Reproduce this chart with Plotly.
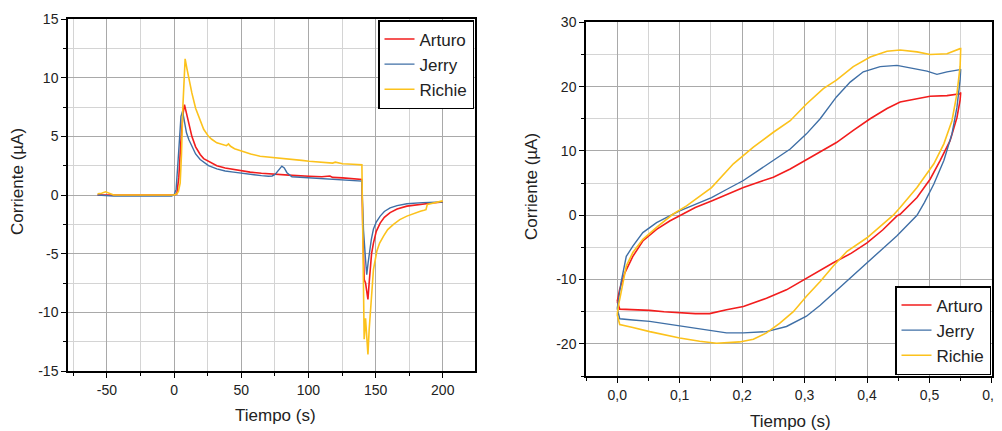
import plotly.graph_objects as go

# ---------------- Left panel data (chronoamperometry) ----------------
t_arturo = [-57, -45, -30, -15, 0, 2, 3.5, 5, 6.5, 7.7, 9, 11, 13.2, 16, 19.4, 22, 25.6, 31.8, 38, 44.2,
            50, 56.6, 65, 75.6, 88, 100.5, 110, 116, 118, 125.4, 133, 139.8, 140.5, 141.5, 142.5, 143.4,
            144.3, 145.2, 145.9, 147, 148.4, 150.5, 153.4, 156.5, 160.8, 166, 173.3, 180, 185.7, 192, 200]
i_arturo = [0, 0, 0, 0, 0, 0.1, 1.5, 4.5, 6.8, 7.7, 7.0, 5.9, 5.0, 4.1, 3.45, 3.1, 2.88, 2.5, 2.3, 2.17,
            2.05, 1.95, 1.85, 1.75, 1.67, 1.6, 1.55, 1.62, 1.5, 1.46, 1.4, 1.32, -3, -7.2, -7.5, -8.2,
            -8.9, -7.5, -6.35, -5.0, -4.1, -3.1, -2.4, -1.9, -1.5, -1.2, -0.95, -0.85, -0.75, -0.68, -0.6]

t_jerry = [-57, -45, -30, -15, -2, 0, 1.5, 3, 3.9, 5.1, 6.3, 7.5, 9.2, 11, 13.2, 16, 19.4, 25.6, 31.8, 38,
           44.2, 56.6, 65, 70.2, 73, 75.2, 78, 80.2, 82, 84, 87.7, 100.5, 125.4, 139.8, 140.2, 141, 142.5,
           143.4, 144.4, 145.4, 146.8, 148.4, 150.5, 153.4, 156.5, 160.8, 166, 173.3, 185, 200]
i_jerry = [0, -0.1, -0.1, -0.1, -0.1, 0, 0.5, 3.0, 4.7, 6.7, 7.15, 6.4, 5.3, 4.7, 4.16, 3.5, 3.03, 2.5, 2.23, 2.05,
           1.95, 1.75, 1.65, 1.6, 1.62, 1.75, 2.2, 2.46, 2.3, 1.9, 1.55, 1.46, 1.32, 1.18, -0.5, -3.0, -5.5,
           -6.8, -5.8, -4.9, -3.8, -2.9, -2.3, -1.8, -1.4, -1.1, -0.9, -0.75, -0.65, -0.6]

t_richie = [-57, -54, -51, -48, -45, -30, -15, 0, 2, 3.2, 4.5, 5.5, 6.5, 7.5, 8.2, 9.5, 11, 13.2, 16, 19.4,
            22, 25.6, 28, 31.8, 36, 39, 40.5, 42, 45, 50.8, 57, 64, 70, 75.6, 82, 88.8, 95, 100.5, 107,
            113.7, 118, 120, 125.4, 133, 139.8, 140.3, 141.5, 142.5, 143.5, 144.3, 145.2, 145.9, 147, 148.4,
            150.9, 153, 155.9, 159, 163.3, 168, 173.3, 178, 183.3, 186, 187.5, 188.5, 192, 197.2, 200]
i_richie = [0.1, 0.15, 0.27, 0.1, 0, 0, 0, 0, 0.1, 0.3, 1.0, 3.5, 7.5, 10.5, 11.6, 10.8, 9.9, 8.7, 7.4, 6.4,
            5.6, 5.0, 4.75, 4.45, 4.3, 4.2, 4.35, 4.15, 3.95, 3.73, 3.5, 3.3, 3.22, 3.17, 3.1, 3.03, 2.95, 2.88, 2.8,
            2.74, 2.72, 2.8, 2.66, 2.62, 2.57, -2, -12.3, -10.5, -12, -13.6, -11.5, -10.3, -8.2, -6.35,
            -4.8, -4.1, -3.5, -2.95, -2.5, -2.1, -1.8, -1.58, -1.38, -1.3, -1.25, -0.8, -0.7, -0.53, -0.5]

# ---------------- Right panel data (cyclic loops) ----------------
e_arturo = [0.0, 0.004, 0.012, 0.025, 0.041, 0.063, 0.084, 0.1, 0.125, 0.151, 0.175, 0.202, 0.225, 0.25,
            0.277, 0.303, 0.325, 0.351, 0.378, 0.405, 0.432, 0.453, 0.48, 0.501, 0.528, 0.549, 0.55,
            0.549, 0.544, 0.533, 0.517, 0.501, 0.48, 0.453, 0.448, 0.425, 0.4, 0.375, 0.346, 0.325, 0.303,
            0.271, 0.239, 0.202, 0.175, 0.148, 0.125, 0.1, 0.075, 0.052, 0.025, 0.004, 0.0]
c_arturo = [-13.4, -11.5, -9, -6.4, -4.0, -2.2, -0.9, -0.1, 1.2, 2.23, 3.2, 4.3, 5.1, 5.9,
            7.2, 8.6, 9.8, 11.3, 13.2, 15, 16.6, 17.6, 18.1, 18.5, 18.6, 18.9, 19.1,
            17.9, 15.2, 11.6, 8.5, 5.6, 2.75, 0.15, -0.1, -2.3, -4.3, -5.9, -7.4, -8.6, -9.75,
            -11.6, -12.9, -14.2, -14.7, -15.3, -15.3, -15.2, -15.0, -14.8, -14.7, -14.6, -13.4]

e_jerry = [0.0, 0.002, 0.006, 0.0145, 0.025, 0.041, 0.063, 0.084, 0.1, 0.125, 0.151, 0.175, 0.202, 0.225,
           0.25, 0.277, 0.303, 0.325, 0.351, 0.373, 0.394, 0.421, 0.448, 0.474, 0.496, 0.512, 0.528, 0.549, 0.55,
           0.549, 0.544, 0.536, 0.523, 0.507, 0.492, 0.48, 0.448, 0.425, 0.4, 0.375, 0.346, 0.325, 0.303,
           0.271, 0.239, 0.202, 0.175, 0.148, 0.125, 0.1, 0.075, 0.052, 0.025, 0.004, 0.0]
c_jerry = [-14.5, -13, -10.5, -6.4, -4.8, -2.7, -1.15, -0.1, 0.67, 1.7, 2.75, 4.0, 5.4, 6.9,
           8.5, 10.3, 12.65, 15, 18.4, 20.7, 22.3, 23.1, 23.3, 22.8, 22.4, 21.9, 22.3, 22.65, 22.7,
           21, 16.8, 12.65, 8.5, 4.85, 2.0, 0.0, -3.2, -5.2, -7.4, -9.7, -12.1, -14, -15.7,
           -17.3, -18.1, -18.3, -18.3, -17.9, -17.6, -17.3, -16.9, -16.5, -16.3, -16.1, -14.5]

e_richie = [0.0, 0.002, 0.006, 0.0145, 0.025, 0.041, 0.063, 0.084, 0.089, 0.111, 0.151, 0.186, 0.218, 0.25,
            0.277, 0.303, 0.33, 0.351, 0.378, 0.405, 0.432, 0.453, 0.48, 0.501, 0.528, 0.549, 0.55,
            0.549, 0.544, 0.536, 0.523, 0.507, 0.48, 0.453, 0.442, 0.4, 0.368, 0.346, 0.325, 0.303, 0.282,
            0.26, 0.239, 0.218, 0.196, 0.159, 0.132, 0.1, 0.075, 0.052, 0.025, 0.004, 0.0]
c_richie = [-15.5, -14, -12.1, -7.9, -5.8, -3.75, -1.9, -0.35, 0.15, 1.45, 4.3, 8.0, 10.6, 12.9,
            14.7, 17.3, 19.7, 21, 23.1, 24.6, 25.5, 25.7, 25.4, 25.0, 25.1, 25.9, 25.9,
            23.1, 18.9, 14.7, 11.1, 8.0, 4.3, 1.2, 0.0, -3.5, -5.6, -7.9, -10.3, -12.6, -15,
            -16.8, -18.3, -19.3, -19.7, -19.9, -19.6, -19.1, -18.6, -18.1, -17.45, -17.0, -15.5]

names = ["Arturo", "Jerry", "Richie"]
colors = ["#f21d1d", "#3f6fa6", "#fcc21c"]

# ---------------- Tick labels ----------------
left_x_vals = [-50, 0, 50, 100, 150, 200]
left_x_text = ["-50", "0", "50", "100", "150", "200"]
left_x_minor = [-75, -25, 25, 75, 125, 175, 225]
left_y_vals = [-15, -10, -5, 0, 5, 10, 15]
left_y_text = ["-15", "-10", "-5", "0", "5", "10", "15"]
left_y_minor = [-12.5, -7.5, -2.5, 2.5, 7.5, 12.5]
right_x_vals = [0.0, 0.1, 0.2, 0.3, 0.4, 0.5, 0.6]
right_x_text = ["0,0", "0,1", "0,2", "0,3", "0,4", "0,5", "0,6"]
right_x_minor = [-0.05, 0.05, 0.15, 0.25, 0.35, 0.45, 0.55]
right_y_vals = [-20, -10, 0, 10, 20, 30]
right_y_text = ["-20", "-10", "0", "10", "20", "30"]
right_y_minor = [-25, -15, -5, 5, 15, 25]

# The page body adds an 8 px margin, so the figure is placed at (8, 8) in the window.
OX, OY = 8, 8
W, H = 994, 423
FONT = "Liberation Sans, Arial, sans-serif"


def fx(px):
    return (px - OX) / W


def fy(py):
    return 1 - (py - OY) / H


fig = go.Figure()
left_sets = [(t_arturo, i_arturo), (t_jerry, i_jerry), (t_richie, i_richie)]
right_sets = [(e_arturo, c_arturo), (e_jerry, c_jerry), (e_richie, c_richie)]
widths = [1.6, 1.4, 1.6]
for k in range(3):
    fig.add_trace(go.Scatter(x=left_sets[k][0], y=left_sets[k][1], mode="lines", name=names[k],
                             line=dict(color=colors[k], width=widths[k]), xaxis="x", yaxis="y",
                             legend="legend"))
for k in range(3):
    fig.add_trace(go.Scatter(x=right_sets[k][0], y=right_sets[k][1], mode="lines", name=names[k],
                             line=dict(color=colors[k], width=widths[k]), xaxis="x2", yaxis="y2",
                             legend="legend2"))


def axis(domain, rng, vals, text, minor_vals, anchor):
    return dict(domain=domain, range=rng, anchor=anchor, tickmode="array", tickvals=vals, ticktext=text,
                ticks="outside", ticklen=5, tickwidth=1.2, tickcolor="black",
                showline=True, linecolor="black", linewidth=1.5, mirror=True,
                showgrid=True, gridcolor="#a9a9a9", gridwidth=1, zeroline=False,
                tickfont=dict(family=FONT, size=14, color="#222"),
                minor=dict(tickmode="array", tickvals=minor_vals, ticks="outside", ticklen=3,
                           tickcolor="black", showgrid=True, gridcolor="#d4d4d4", gridwidth=1),
                automargin=False, fixedrange=True)


fig.update_layout(
    width=W, height=H,
    margin=dict(l=0, r=0, t=0, b=0),
    paper_bgcolor="white", plot_bgcolor="white",
    xaxis=axis([fx(68), fx(475)], [-79, 224], left_x_vals, left_x_text, left_x_minor, "y"),
    yaxis=axis([fy(371), fy(19)], [-15, 15], left_y_vals, left_y_text, left_y_minor, "x"),
    xaxis2=axis([fx(586), fx(992)], [-0.05, 0.6001], right_x_vals, right_x_text, right_x_minor, "y2"),
    yaxis2=axis([fy(376), fy(22.3)], [-25, 30], right_y_vals, right_y_text, right_y_minor, "x2"),
    legend=dict(x=fx(474), y=fy(20), xanchor="right", yanchor="top", bgcolor="white",
                bordercolor="black", borderwidth=1.5, font=dict(family=FONT, size=17, color="#222"),
                itemwidth=30, tracegroupgap=0),
    legend2=dict(x=fx(991), y=fy(375), xanchor="right", yanchor="bottom", bgcolor="white",
                 bordercolor="black", borderwidth=1.5, font=dict(family=FONT, size=17, color="#222"),
                 itemwidth=30, tracegroupgap=0),
    showlegend=True,
    annotations=[
        dict(text="Corriente (µA)", x=fx(18), y=fy(182), xref="paper", yref="paper", textangle=-90,
             showarrow=False, font=dict(family=FONT, size=17, color="#222"), xanchor="center", yanchor="middle"),
        dict(text="Tiempo (s)", x=fx(275), y=fy(415), xref="paper", yref="paper",
             showarrow=False, font=dict(family=FONT, size=17, color="#222"), xanchor="center", yanchor="middle"),
        dict(text="Corriente (µA)", x=fx(531.5), y=fy(186.5), xref="paper", yref="paper", textangle=-90,
             showarrow=False, font=dict(family=FONT, size=17, color="#222"), xanchor="center", yanchor="middle"),
        dict(text="Tiempo (s)", x=fx(790), y=fy(421), xref="paper", yref="paper",
             showarrow=False, font=dict(family=FONT, size=17, color="#222"), xanchor="center", yanchor="middle"),
    ],
)

fig.write_html("out.html")
